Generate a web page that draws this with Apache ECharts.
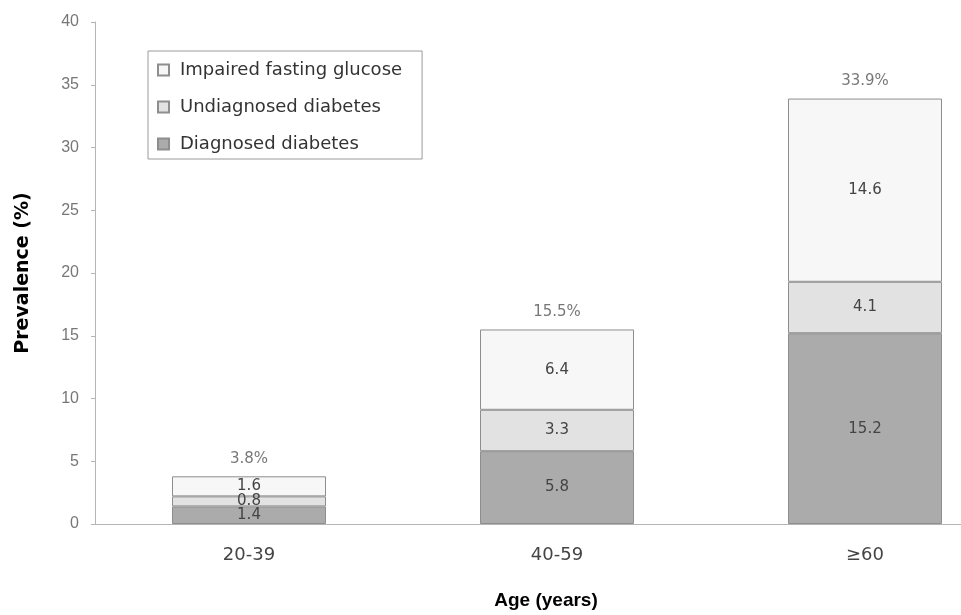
<!DOCTYPE html>
<html>
<head>
<meta charset="utf-8">
<script src="https://cdn.jsdelivr.net/npm/echarts@6/dist/echarts.min.js"></script>
<style>
  html, body { margin: 0; padding: 0; background: #ffffff; overflow: hidden; }
  /* the plot area runs past the right edge of the page, so the canvas is wider than the window */
  #chart { width: 1019px; height: 615px; }
</style>
</head>
<body>
<div id="chart"></div>
<script>
// Age groups on the category axis
const ageGroups = ['20-39', '40-59', '\u226560'];

// Prevalence (%) per group, stacked bottom to top
const diagnosed = [1.4, 5.8, 15.2];
const undiagnosed = [0.8, 3.3, 4.1];
const impaired = [1.6, 6.4, 14.6];

// Y axis ticks
const yTicks = [0, 5, 10, 15, 20, 25, 30, 35, 40];

const totals = ageGroups.map((_, i) =>
  Math.round((diagnosed[i] + undiagnosed[i] + impaired[i]) * 10) / 10);

const labelFont = 'DejaVu Sans, Verdana, sans-serif';
const segBorder = { borderColor: '#8e8e8e', borderWidth: 1 };
const insideLabel = {
  show: true,
  position: 'inside',
  color: '#444',
  fontFamily: labelFont,
  fontSize: 15,
  formatter: p => p.value.toFixed(1)
};

const chart = echarts.init(document.getElementById('chart'), null, { renderer: 'canvas' });

chart.setOption({
  animation: false,
  backgroundColor: '#ffffff',
  grid: { left: 95, width: 924, top: 22, height: 504, containLabel: false },
  legend: {
    orient: 'vertical',
    left: 148,
    top: 51,
    padding: [9, 20, 5, 9],
    borderColor: '#9a9a9a',
    borderWidth: 1,
    itemWidth: 11,
    itemHeight: 11,
    itemGap: 17,
    icon: 'rect',
    selectedMode: false,
    textStyle: { fontFamily: labelFont, fontSize: 18, lineHeight: 20, color: '#333', padding: [0, 0, 0, 6] },
    data: ['Impaired fasting glucose', 'Undiagnosed diabetes', 'Diagnosed diabetes']
  },
  xAxis: {
    type: 'category',
    data: ageGroups,
    name: 'Age (years)',
    nameLocation: 'middle',
    nameGap: 67,
    nameTextStyle: {
      fontFamily: 'Liberation Sans, Arial, sans-serif', fontWeight: 'bold',
      fontSize: 19, color: '#000', padding: [0, 0, 0, -22]
    },
    axisLine: { lineStyle: { color: '#b5b5b5', width: 1 } },
    axisTick: { show: false },
    axisLabel: { fontFamily: labelFont, fontSize: 18, color: '#444', margin: 22 }
  },
  yAxis: {
    type: 'value',
    min: yTicks[0],
    max: yTicks[yTicks.length - 1],
    interval: 5,
    name: 'Prevalence (%)',
    nameLocation: 'middle',
    nameGap: 62,
    nameRotate: 90,
    nameTextStyle: {
      fontFamily: 'DejaVu Sans, sans-serif', fontWeight: 'bold',
      fontSize: 19, color: '#000'
    },
    splitLine: { show: false },
    axisLine: { show: true, lineStyle: { color: '#b5b5b5', width: 1 } },
    axisTick: { show: true, length: 4, lineStyle: { color: '#b5b5b5' } },
    axisLabel: { fontFamily: 'Liberation Sans, Arial, sans-serif', fontSize: 16, color: '#777', margin: 16 }
  },
  series: [
    {
      name: 'Diagnosed diabetes',
      type: 'bar',
      stack: 'prev',
      barWidth: '50%',
      data: diagnosed,
      itemStyle: Object.assign({ color: '#ababab' }, segBorder),
      label: insideLabel
    },
    {
      name: 'Undiagnosed diabetes',
      type: 'bar',
      stack: 'prev',
      data: undiagnosed,
      itemStyle: Object.assign({ color: '#e2e2e2' }, segBorder),
      label: insideLabel
    },
    {
      name: 'Impaired fasting glucose',
      type: 'bar',
      stack: 'prev',
      data: impaired,
      itemStyle: Object.assign({ color: '#f7f7f7' }, segBorder),
      label: insideLabel
    },
    {
      name: 'total',
      type: 'scatter',
      data: totals,
      symbolSize: 0,
      silent: true,
      label: {
        show: true,
        position: 'top',
        distance: 10,
        color: '#555',
        fontFamily: labelFont,
        fontSize: 15,
        formatter: p => p.value.toFixed(1) + '%'
      }
    }
  ]
});
</script>
</body>
</html>
